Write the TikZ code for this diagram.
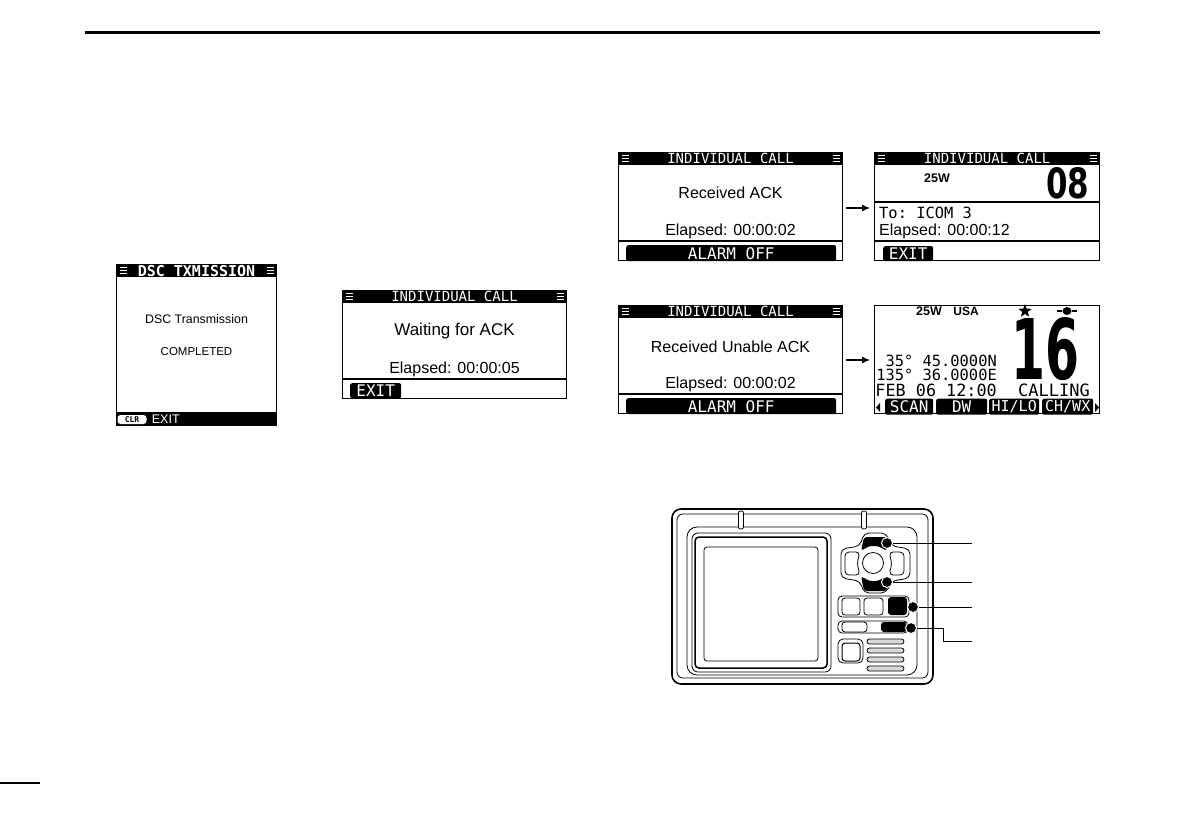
\documentclass[tikz,border=0pt]{standalone}
\usepackage{fontspec}
\setmainfont{Liberation Sans}
\setmonofont{DejaVu Sans Mono}
\newfontfamily\chanfont{DejaVu Sans}
\usetikzlibrary{arrows.meta, positioning, calc, shapes.geometric}
\begin{document}
\begin{tikzpicture}[
      x=1pt, y=-1pt, >={Latex[length=8pt,width=7pt]},
      screenbox/.style={draw, line width=1.3pt, inner sep=0pt, anchor=north west,
        minimum width=223.7pt, minimum height=107.7pt},
      screenhead/.style={fill=black, text=white, inner sep=0pt, anchor=north,
        minimum width=225pt, minimum height=13pt,
        font=\ttfamily\fontsize{14}{14}\selectfont},
      softtab/.style={fill=black, text=white, inner sep=0pt, anchor=north west,
        rounded corners=2pt, minimum height=16pt,
        font=\ttfamily\fontsize{16}{16}\selectfont},
      dispmsg/.style={inner sep=0pt, font=\fontsize{16}{16}\selectfont},
      dispmono/.style={inner sep=0pt, font=\ttfamily\fontsize{15.4}{16}\selectfont},
      divline/.style={line width=1.3pt},
      bodyline/.style={line width=0.8pt},
      callout/.style={circle, fill=black, draw=white, line width=1pt,
        inner sep=0pt, minimum size=11pt},
      leader/.style={line width=0.8pt},
      menuicon/.pic={\foreach \dy in {-3,0,3}
        \draw[white, line width=1.3pt] (-3.5,\dy) -- (3.5,\dy);}
    ]
      \useasboundingbox (0,0) rectangle (1191,839);
      \draw[line width=3pt] (85,32) -- (1100,32);
      \draw[line width=1.2pt] (0,783) -- (40,783);

      % left column
      \node[screenbox, minimum width=159.7pt, minimum height=160.7pt] (dsc) at (116,264) {};
      \node[screenhead, minimum width=161pt, font=\ttfamily\bfseries\fontsize{15}{15}\selectfont]
        (dschead) at (dsc.north) {DSC TXMISSION};
      \node[dispmsg, font=\fontsize{12.4}{13}\selectfont] (dscmsg)
        at ($(dsc.north)+(0,55)$) {DSC Transmission};
      \node[dispmsg, font=\fontsize{11.5}{13}\selectfont] (dscdone)
        at ($(dsc.north)+(0,88)$) {COMPLETED};
      \node[fill=black, inner sep=0pt, anchor=south, minimum width=161pt, minimum height=14pt]
        (dscfoot) at (dsc.south) {};
      \node[fill=white, rounded corners=3pt, inner sep=0pt, minimum width=29pt, minimum height=9pt,
        font=\ttfamily\bfseries\fontsize{8}{8}\selectfont] (dscclr) at (132,419.5) {CLR};
      \node[inner sep=0pt, text=white, right=5pt of dscclr,
        font=\fontsize{12.5}{13}\selectfont] (dscexit) {EXIT};

      \node[screenbox] (wait) at (342,290) {};
      \node[screenhead] (waithead) at (wait.north) {INDIVIDUAL CALL};
      \node[dispmsg, font=\fontsize{17}{17}\selectfont] (waitmsg)
        at ($(wait.north)+(0,41)$) {Waiting for ACK};
      \node[dispmsg] (waittime) at ($(wait.north)+(0,79)$) {Elapsed: 00:00:05};
      \draw[divline] (342,379) -- (567,379);
      \node[softtab, minimum width=51pt, minimum height=15pt] (waitexit) at (350,383) {EXIT};

      % right column
      \node[screenbox] (ack) at (618,152) {};
      \node[screenhead] (ackhead) at (ack.north) {INDIVIDUAL CALL};
      \node[dispmsg] (ackmsg) at ($(ack.north)+(0,41)$) {Received ACK};
      \node[dispmsg] (acktime) at ($(ack.north)+(0,79)$) {Elapsed: 00:00:02};
      \draw[divline] (618,241) -- (843,241);
      \node[softtab, minimum width=210pt] (ackoff) at (626,245) {ALARM OFF};

      \node[screenbox, minimum width=225pt, right=31pt of ack] (chan) {};
      \node[screenhead, minimum width=226pt] (chanhead) at (chan.north) {INDIVIDUAL CALL};
      \node[inner sep=0pt, font=\bfseries\fontsize{12.5}{13}\selectfont] (chanpower) at (937,178) {25W};
      \node[inner sep=0pt] (channum) at (1067.5,183.5)
        {\resizebox{43pt}{31pt}{\chanfont\bfseries 08}};
      \draw[divline] (chan.west |- 0,202) -- (chan.east |- 0,202);
      \node[dispmono, anchor=west] (chanto) at (879,213) {To: ICOM 3};
      \node[dispmsg, anchor=west] (chantime) at (879,231) {Elapsed: 00:00:12};
      \draw[divline] (chan.west |- 0,241) -- (chan.east |- 0,241);
      \node[softtab, minimum width=50pt, minimum height=15pt] (chanexit) at (883,246) {EXIT};

      \node[screenbox, below=44pt of ack] (unable) {};
      \node[screenhead] (unablehead) at (unable.north) {INDIVIDUAL CALL};
      \node[dispmsg] (unablemsg) at ($(unable.north)+(0,42)$) {Received Unable ACK};
      \node[dispmsg] (unabletime) at ($(unable.north)+(0,79)$) {Elapsed: 00:00:02};
      \draw[divline] (618,394) -- (843,394);
      \node[softtab, minimum width=210pt] (unableoff) at (626,398) {ALARM OFF};

      \node[screenbox, minimum width=225pt, right=31pt of unable] (home) {};
      \node[inner sep=0pt, font=\bfseries\fontsize{12.5}{13}\selectfont] (homepower) at (929,311) {25W};
      \node[inner sep=0pt, font=\bfseries\fontsize{12}{13}\selectfont] (homeregion) at (966,311) {USA};
      \node[star, star points=5, star point ratio=2.4, fill=black, inner sep=0pt,
        minimum size=14pt] (homestar) at (1025,311) {};
      \node[ellipse, fill=black, inner sep=0pt, minimum width=9pt, minimum height=8pt]
        (homewx) at (1067,311) {};
      \draw[line width=2pt] (1057,311) -- (homewx) -- (1077,311);
      \node[inner sep=0pt] (homenum) at (1045.5,349.5)
        {\resizebox{68pt}{62pt}{\chanfont\bfseries 16}};
      \node[dispmono, anchor=east] (homelat) at (997,361) {35° 45.0000N};
      \node[dispmono, anchor=east] (homelon) at (997,375) {135° 36.0000E};
      \node[dispmono, anchor=east, font=\ttfamily\fontsize{16.8}{17}\selectfont] (homeclock)
        at (997,390) {FEB 06 12:00};
      \node[dispmono, font=\ttfamily\fontsize{17}{17}\selectfont] (homemode)
        at (1054,390) {CALLING};
      \node[softtab, minimum width=48pt] (homescan) at (885,398.5) {SCAN};
      \node[softtab, minimum width=51pt] (homedw) at (936,398.5) {DW};
      \node[softtab, minimum width=50pt, font=\ttfamily\fontsize{15}{15}\selectfont]
        (homehilo) at (989,398.5) {HI/LO};
      \node[softtab, minimum width=51pt, font=\ttfamily\fontsize{15}{15}\selectfont]
        (homechwx) at (1042,398.5) {CH/WX};
      \fill (880,403) -- (880,412) -- (876,407.5) -- cycle;
      \fill (1095,403) -- (1095,412) -- (1099,407.5) -- cycle;

      \foreach \scr in {dsc,wait,ack,chan,unable} {
        \pic at ($(\scr.north west)+(7,6.5)$) {menuicon};
        \pic at ($(\scr.north east)+(-7,6.5)$) {menuicon};
      }

      \draw[->, line width=1.3pt] ($(ack.east)+(3,1.5)$) -- ($(chan.west)+(-4,1.5)$);
      \draw[->, line width=1.3pt] ($(unable.east)+(3,0.5)$) -- ($(home.west)+(-4,0.5)$);

      % radio front
      \draw[line width=1.6pt, rounded corners=9pt] (672,509) rectangle (933,684);
      \draw[bodyline, rounded corners=6pt] (677,514) rectangle (928,678);
      \draw[bodyline, rounded corners=10pt] (687,527) rectangle (917,675);
      \foreach \nx in {741,864}
        \draw[bodyline, fill=white, rounded corners=2pt] (\nx-2.5,511) rectangle (\nx+2.5,529);
      \draw[bodyline, rounded corners=6pt] (692,533) rectangle (831,672);
      \draw[line width=1.5pt, rounded corners=4pt] (695,537) rectangle (827,668);
      \draw[bodyline, rounded corners=3pt] (704,547) rectangle (818,661);

      \draw[bodyline, fill=white, rounded corners=5pt] (860,546) -- (864,533) -- (886,533) -- (892,546)
        -- (910,549) -- (910,578) -- (892,581) -- (886,593) -- (864,593) -- (860,581)
        -- (841,578) -- (841,549) -- cycle;
      \fill[rounded corners=3pt] (861,551) -- (864,537) -- (887,537) -- (887,551)
        -- (878,546) -- (869,546) -- cycle;
      \fill[rounded corners=3pt] (861,576) -- (869,581) -- (878,581) -- (887,576)
        -- (887,591) -- (864,591) -- cycle;
      \draw[bodyline, rounded corners=4pt] (845,552) -- (860,552) -- (857,563.5) -- (860,575)
        -- (845,575) -- cycle;
      \draw[bodyline, rounded corners=4pt] (889,552) -- (904,552) -- (904,575) -- (889,575)
        -- (892,563.5) -- cycle;
      \draw[bodyline] (873,563) circle (10.5);

      \draw[bodyline, fill=white, rounded corners=4pt] (838,596) rectangle (909,617);
      \draw[bodyline, rounded corners=3pt] (842,598) rectangle (860,615);
      \draw[bodyline, rounded corners=3pt] (864,598) rectangle (883,615);
      \fill[rounded corners=3pt] (888,597) rectangle (907,615);
      \draw[bodyline, fill=white, rounded corners=4pt] (838,621) rectangle (908,633);
      \draw[bodyline, rounded corners=3pt] (842,622) rectangle (867,632);
      \fill[rounded corners=3pt] (881,622) rectangle (907,632);
      \draw[bodyline, rounded corners=5pt] (838,639) rectangle (863,663);
      \draw[line width=1pt, rounded corners=3pt] (842,643) rectangle (860,661);
      \foreach \sy in {639,648,657,666}
        \draw[bodyline, fill=black!15, rounded corners=2.5pt] (867,\sy) rectangle (904,\sy+5);

      % callouts
      \node[callout] (dotup) at (887,543) {};
      \node[callout] (dotdown) at (887,582) {};
      \node[callout] (dotent) at (913,607) {};
      \node[callout] (dotmenu) at (911,628) {};
      \coordinate (endup) at (972,543);
      \coordinate (enddown) at (972,582);
      \coordinate (endent) at (972,607);
      \coordinate (bendmenu) at (943,641);
      \coordinate (endmenu) at (972,641);
      \draw[leader] (dotup) -- (endup);
      \draw[leader] (dotdown) -- (enddown);
      \draw[leader] (dotent) -- (endent);
      \draw[leader] (dotmenu) -| (bendmenu) -- (endmenu);
    \end{tikzpicture}
\end{document}
